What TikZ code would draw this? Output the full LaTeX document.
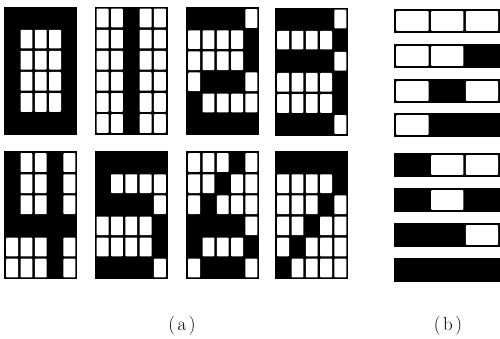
\documentclass[tikz,border=0pt]{standalone}
\usepackage{fontspec}
\newcommand\digitgrid[3]{%
  \fill[black] (#1,#2) rectangle ++(71.5,126.6);
  \draw[line width=1.2pt] (#1,#2) rectangle ++(71.5,126.6);
  \foreach \v [count=\k from 0] in {#3} {%
    \ifnum\v=0
      \pgfmathtruncatemacro\cc{mod(\k,5)}%
      \pgfmathtruncatemacro\rr{int(\k/5)}%
      \pgfmathsetmacro\xx{#1+\cc*14.3+1.2}%
      \pgfmathsetmacro\yy{#2+\rr*21.1+1.2}%
      \fill[white,rounded corners=0.8pt] (\xx,\yy) rectangle ++(11.9,18.7);
    \fi
  }%
}
\newcommand\bargrid[2]{%
  \fill[black] (395,#1) rectangle ++(104.4,22);
  \draw[line width=1.2pt] (395,#1) rectangle ++(104.4,22);
  \foreach \v [count=\k from 0] in {#2} {%
    \ifnum\v=0
      \pgfmathsetmacro\xx{395+\k*34.8+1.2}%
      \fill[white,rounded corners=0.8pt] (\xx,#1+1.2) rectangle ++(32.4,19.6);
    \fi
  }%
}
\begin{document}
\begin{tikzpicture}[x=1pt,y=-1pt]
\useasboundingbox (0,0) rectangle (500,339);
% digit 0
\digitgrid{5}{7.5}{1,1,1,1,1, 1,0,0,0,1, 1,0,0,0,1, 1,0,0,0,1, 1,0,0,0,1, 1,1,1,1,1}
% digit 1
\digitgrid{95.5}{7.5}{0,0,1,0,0, 0,0,1,0,0, 0,0,1,0,0, 0,0,1,0,0, 0,0,1,0,0, 0,0,1,0,0}
% digit 2
\digitgrid{187}{8}{1,1,1,1,0, 0,0,0,0,1, 0,0,0,0,1, 0,1,1,1,0, 1,0,0,0,0, 1,1,1,1,1}
% digit 3
\digitgrid{276}{8.5}{1,1,1,1,0, 0,0,0,0,1, 1,1,1,1,0, 0,0,0,0,1, 0,0,0,0,1, 1,1,1,1,0}
% digit 4
\digitgrid{5}{152}{1,0,0,1,0, 1,0,0,1,0, 1,0,0,1,0, 1,1,1,1,1, 0,0,0,1,0, 0,0,0,1,0}
% digit 5
\digitgrid{95.5}{152}{1,1,1,1,1, 1,0,0,0,0, 1,1,1,1,0, 0,0,0,0,1, 0,0,0,0,1, 1,1,1,1,0}
% digit 6
\digitgrid{187}{152}{0,0,0,1,0, 0,0,1,0,0, 0,1,0,0,0, 1,1,1,1,0, 1,0,0,0,1, 0,1,1,1,0}
% digit 7
\digitgrid{276}{152}{1,1,1,1,1, 0,0,0,0,1, 0,0,0,1,0, 0,0,1,0,0, 0,1,0,0,0, 1,0,0,0,0}
% bars (b)
\bargrid{10}{0,0,0}
\bargrid{45}{0,0,1}
\bargrid{80}{0,1,0}
\bargrid{114}{0,1,1}
\bargrid{154}{1,0,0}
\bargrid{189}{1,0,1}
\bargrid{224}{1,1,0}
\bargrid{259}{1,1,1}
% labels
\node[font=\fontsize{19}{22}\selectfont] (la) at (182,326) {(\hspace{2.5pt}a\hspace{2.5pt})};
\node[font=\fontsize{19}{22}\selectfont] (lb) at (448,326) {(\hspace{2.5pt}b\hspace{2.5pt})};
\end{tikzpicture}
\end{document}
